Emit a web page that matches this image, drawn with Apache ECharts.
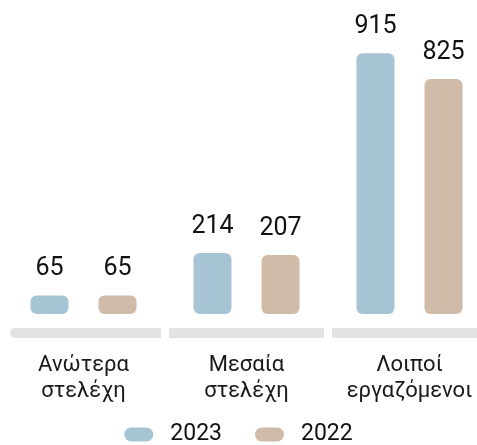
<!DOCTYPE html>
<html>
<head>
<meta charset="utf-8">
<script src="https://cdn.jsdelivr.net/npm/echarts@6/dist/echarts.min.js"></script>
<style>
  html, body { margin: 0; padding: 0; background: #ffffff; }
  #chart { width: 477px; height: 445px; }
</style>
</head>
<body>
<div id="chart"></div>
<script>
// Employee headcount by level, 2023 vs 2022
const categories = ['Ανώτερα\nστελέχη', 'Μεσαία\nστελέχη', 'Λοιποί\nεργαζόμενοι'];
const values2023 = [65, 214, 915];
const values2022 = [65, 207, 825];
const seriesNames = ['2023', '2022'];

const colors = ['#a7c4d4', '#d0baa8'];
const FONT = 'Roboto, "Noto Sans", sans-serif';

const chart = echarts.init(document.getElementById('chart'), null, { renderer: 'canvas' });

// Grey baseline strip under each category group
function renderBand(params, api) {
  const idx = api.value(0);
  const c = api.coord([idx, 0]);
  const w = api.size([1, 0])[0];
  let x0 = c[0] - w / 2 + 4;
  const x1 = c[0] + w / 2 - 4;
  if (idx === 0) x0 += 4;
  return {
    type: 'rect',
    shape: { x: x0, y: c[1] + 14, width: x1 - x0, height: 10, r: idx === 0 ? [5, 0, 0, 5] : 0 },
    style: { fill: '#e3e3e5' },
    silent: true
  };
}

const valueLabel = {
  show: true,
  position: 'top',
  distance: 14,
  color: '#111111',
  fontFamily: FONT,
  fontSize: 25
};

chart.setOption({
  animation: false,
  backgroundColor: '#ffffff',
  // the plot runs a little past the right edge of the canvas
  grid: { left: 2, width: 489, top: 29, height: 285, containLabel: false, outerBoundsMode: 'none' },
  legend: {
    data: seriesNames,
    left: 'center',
    top: 418,
    itemWidth: 29,
    itemHeight: 14,
    itemGap: 33,
    icon: 'path://M7,0 L22,0 A7,7 0 0 1 22,14 L7,14 A7,7 0 0 1 7,0 Z',
    textStyle: { fontFamily: FONT, fontSize: 23, color: '#111111', padding: [0, 0, 0, 12] }
  },
  xAxis: {
    type: 'category',
    data: categories,
    axisLine: { show: false },
    axisTick: { show: false },
    axisLabel: {
      interval: 0,
      margin: 38,
      fontFamily: FONT,
      fontSize: 22,
      lineHeight: 26,
      color: '#1a1a1a'
    }
  },
  yAxis: {
    type: 'value',
    min: 0,
    max: 1000,
    show: false,
    splitLine: { show: false }
  },
  series: [
    {
      name: seriesNames[0],
      type: 'bar',
      data: values2023,
      barWidth: 38,
      barGap: '79%',
      itemStyle: { color: colors[0], borderRadius: 6 },
      label: valueLabel
    },
    {
      name: seriesNames[1],
      type: 'bar',
      data: values2022,
      barWidth: 38,
      barGap: '79%',
      itemStyle: { color: colors[1], borderRadius: 6 },
      label: valueLabel
    },
    {
      name: 'band',
      type: 'custom',
      renderItem: renderBand,
      data: categories.map((_, i) => [i, 0]),
      silent: true,
      z: 0
    }
  ]
});
</script>
</body>
</html>
